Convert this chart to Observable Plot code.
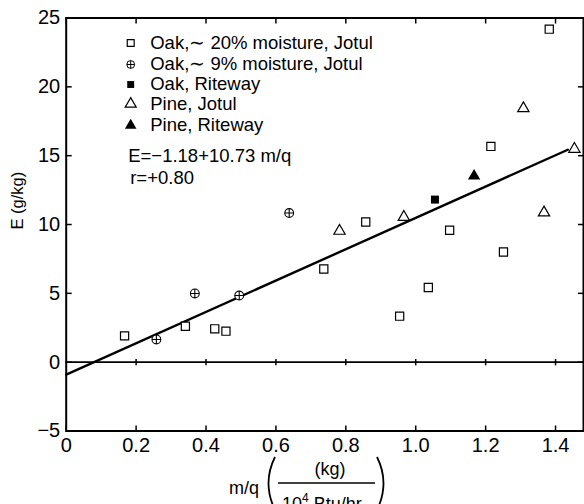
<!DOCTYPE html>
<html>
<head>
<meta charset="utf-8">
<script src="https://cdn.jsdelivr.net/npm/d3@7"></script>
<script src="https://cdn.jsdelivr.net/npm/@observablehq/plot@0.6"></script>
<style>
  html, body { margin: 0; padding: 0; background: #fff; overflow: hidden; }
  svg { display: block; }
</style>
</head>
<body>
<div id="chart"></div>
<script>
// ---- data ----
const oak20X = [0.167, 0.341, 0.425, 0.457, 0.737, 0.857, 0.954, 1.036, 1.097, 1.215, 1.251, 1.382];
const oak20Y = [1.91, 2.61, 2.42, 2.25, 6.77, 10.18, 3.34, 5.42, 9.58, 15.67, 8.0, 24.19];
const oak9X = [0.258, 0.368, 0.495, 0.638];
const oak9Y = [1.65, 4.99, 4.84, 10.83];
const oakRitewayX = [1.055];
const oakRitewayY = [11.81];
const pineJotulX = [0.782, 0.966, 1.308, 1.367, 1.454];
const pineJotulY = [9.53, 10.54, 18.43, 10.86, 15.48];
const pineRitewayX = [1.167];
const pineRitewayY = [13.52];
const fitX = [0, 1.435];
const fitY = [-0.9, 15.43];

const legendLabels = ["Oak,\u223C 20% moisture, Jotul", "Oak,\u223C 9% moisture, Jotul", "Oak, Riteway", "Pine, Jotul", "Pine, Riteway"];
const equationLines = ["E=\u22121.18+10.73 m/q", "r=+0.80"];
const xTicks = [0, 0.2, 0.4, 0.6, 0.8, 1.0, 1.2, 1.4];
const xTickLabels = ["0", "0.2", "0.4", "0.6", "0.8", "1.0", "1.2", "1.4"];
const yTicks = [-5, 0, 5, 10, 15, 20, 25];
const yTickLabels = ["\u22125", "0", "5", "10", "15", "20", "25"];
const yLabel = "E (g/kg)";
const xLabelLeft = "m/q";
const xLabelNum = "(kg)";
const xLabelDen = ["10", "4", "\u00A0Btu/hr"];

const zip = (xs, ys) => xs.map((x, i) => ({x, y: ys[i]}));
const oak20 = zip(oak20X, oak20Y);
const oak9 = zip(oak9X, oak9Y);
const oakRite = zip(oakRitewayX, oakRitewayY);
const pineJ = zip(pineJotulX, pineJotulY);
const pineRite = zip(pineRitewayX, pineRitewayY);
const fit = zip(fitX, fitY);

const vline = {draw(ctx, size) { const r = Math.sqrt(size / Math.PI); ctx.moveTo(0, -r); ctx.lineTo(0, r); }};

const font = "'Liberation Sans', Arial, Helvetica, sans-serif";
const sw = 1.2;

// legend symbol specs per row (style only)
const legendSym = [
  [{symbol: "square", r: 3.9, fill: "none", stroke: "black", strokeWidth: sw}],
  [{symbol: "circle", r: 3.9, fill: "none", stroke: "black", strokeWidth: 1}, {symbol: "plus", r: 2.6, stroke: "black", strokeWidth: 1}],
  [{symbol: "square", r: 3.9, fill: "black", stroke: "none"}],
  [{symbol: "triangle", r: 4.1, fill: "none", stroke: "black", strokeWidth: sw}],
  [{symbol: "triangle", r: 4.3, fill: "black", stroke: "none"}]
];
const rowDy = [25, 46.5, 66.5, 86, 107.5];

const legendMarks = legendLabels.flatMap((lab, i) => [
  ...legendSym[i].map(s => Plot.dot([lab], {frameAnchor: "top-left", dx: 64.5, dy: rowDy[i], ...s})),
  Plot.text([lab], {frameAnchor: "top-left", text: d => d, dx: 84, dy: rowDy[i], textAnchor: "start", lineAnchor: "middle", fontSize: 18.5, fill: "black"})
]);
const eqMarks = equationLines.map((t, i) => Plot.text([t], {frameAnchor: "top-left", text: d => d, dx: 62 + i * 2, dy: 138 + i * 22.5, textAnchor: "start", lineAnchor: "middle", fontSize: 18.5, fill: "black"}));

const chart = Plot.plot({
  width: 584,
  height: 504,
  marginLeft: 65.7,
  marginRight: 1,
  marginTop: 17.5,
  marginBottom: 73.5,
  style: {fontFamily: font, color: "black", background: "white", overflow: "visible"},
  x: {domain: [0, 1.48]},
  y: {domain: [-5, 25]},
  marks: [
    Plot.ruleY([0], {stroke: "black", strokeWidth: 1.7}),
    Plot.dot(xTicks.slice(1), {x: d => d, y: () => 0, symbol: vline, r: 3.2, stroke: "black", strokeWidth: 1.5}),
    Plot.axisY({anchor: "left", ticks: yTicks, tickSize: -6, tickPadding: 12, tickFormat: d => yTickLabels[yTicks.indexOf(d)], fontSize: 20, label: null, strokeWidth: 1.5}),
    Plot.axisY({anchor: "right", ticks: yTicks, tickSize: -6, tickFormat: () => "", label: null, strokeWidth: 1.5}),
    Plot.axisX({anchor: "bottom", ticks: xTicks, tickSize: -5, tickPadding: 12, tickFormat: d => xTickLabels[xTicks.indexOf(d)], fontSize: 20, label: null, strokeWidth: 1.5}),
    Plot.axisX({anchor: "top", ticks: xTicks, tickSize: -5, tickFormat: () => "", label: null, strokeWidth: 1.5}),
    Plot.frame({stroke: "black", strokeWidth: 2}),
    Plot.text([yLabel], {frameAnchor: "left", text: d => d, rotate: -90, dx: -48.5, dy: 5, fontSize: 16.5, fill: "black"}),
    Plot.line(fit, {x: "x", y: "y", stroke: "black", strokeWidth: 2.4}),
    Plot.dot(oak20, {x: "x", y: "y", symbol: "square", r: 4.6, fill: "white", stroke: "black", strokeWidth: sw}),
    Plot.dot(oak9, {x: "x", y: "y", symbol: "circle", r: 4.4, fill: "white", stroke: "black", strokeWidth: 1.1}),
    Plot.dot(oak9, {x: "x", y: "y", symbol: "plus", r: 2.95, stroke: "black", strokeWidth: 1.1}),
    Plot.dot(oakRite, {x: "x", y: "y", symbol: "square", r: 4.5, fill: "black", stroke: "none"}),
    Plot.dot(pineJ, {x: "x", y: "y", symbol: "triangle", r: 4.2, fill: "white", stroke: "black", strokeWidth: sw}),
    Plot.dot(pineRite, {x: "x", y: "y", symbol: "triangle", r: 4.6, fill: "black", stroke: "none"}),
    ...legendMarks,
    ...eqMarks
  ]
});

// x-axis label: m/q ( (kg) / 10^4 Btu/hr )
const svg = d3.select(chart);
const g = svg.append("g").attr("font-family", font).attr("fill", "black").attr("text-anchor", "start");
g.append("text").attr("x", 244).attr("y", 494).attr("text-anchor", "middle").attr("font-size", 18).text(xLabelLeft);
g.append("path").attr("d", "M275,457 Q262,483 275,510").attr("fill", "none").attr("stroke", "black").attr("stroke-width", 1.8);
g.append("path").attr("d", "M377,457 Q390,483 377,510").attr("fill", "none").attr("stroke", "black").attr("stroke-width", 1.8);
g.append("text").attr("x", 330).attr("y", 475).attr("text-anchor", "middle").attr("font-size", 18).text(xLabelNum);
g.append("line").attr("x1", 278).attr("x2", 375).attr("y1", 483).attr("y2", 483).attr("stroke", "black").attr("stroke-width", 1.5);
const t = g.append("text").attr("x", 282).attr("y", 510).attr("text-anchor", "start").attr("font-size", 18);
t.append("tspan").text(xLabelDen[0]);
t.append("tspan").attr("font-size", 12).attr("dy", -8).text(xLabelDen[1]);
t.append("tspan").attr("dy", 8).text(xLabelDen[2]);

document.getElementById("chart").append(chart);
</script>
</body>
</html>
